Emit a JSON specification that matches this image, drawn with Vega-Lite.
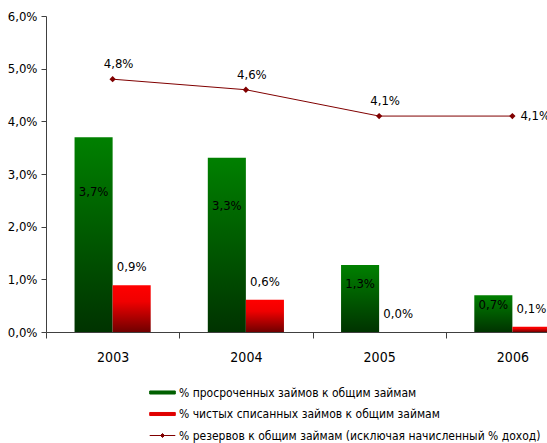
{
  "$schema": "https://vega.github.io/schema/vega-lite/v6.json",
  "autosize": {"type": "none"},
  "width": 501,
  "height": 316,
  "padding": {"left": 46, "top": 16, "right": 0, "bottom": 111},
  "config": {
    "view": {"stroke": null},
    "font": "DejaVu Sans Condensed, Liberation Sans",
    "locale": {"number": {"decimal": ",", "thousands": "\u00a0", "grouping": [3], "currency": ["", ""]}}
  },
  "data": {"values": [
    {"year": "2003", "series": "% просроченных займов к общим займам", "value": 0.037},
    {"year": "2004", "series": "% просроченных займов к общим займам", "value": 0.0331},
    {"year": "2005", "series": "% просроченных займов к общим займам", "value": 0.0127},
    {"year": "2006", "series": "% просроченных займов к общим займам", "value": 0.007},
    {"year": "2003", "series": "% чистых списанных займов к общим займам", "value": 0.0089},
    {"year": "2004", "series": "% чистых списанных займов к общим займам", "value": 0.0061},
    {"year": "2005", "series": "% чистых списанных займов к общим займам", "value": 0.0},
    {"year": "2006", "series": "% чистых списанных займов к общим займам", "value": 0.001},
    {"year": "2003", "series": "% резервов к общим займам (исключая начисленный % доход)", "value": 0.048},
    {"year": "2004", "series": "% резервов к общим займам (исключая начисленный % доход)", "value": 0.046},
    {"year": "2005", "series": "% резервов к общим займам (исключая начисленный % доход)", "value": 0.041},
    {"year": "2006", "series": "% резервов к общим займам (исключая начисленный % доход)", "value": 0.041}
  ]},
  "encoding": {
    "x": {
      "field": "year", "type": "nominal",
      "scale": {"type": "band", "range": [0, 533], "paddingInner": 0, "paddingOuter": 0},
      "axis": {"title": null, "labelAngle": 0, "tickBand": "extent", "tickSize": 6, "labelPadding": 12,
               "labelFontSize": 14, "labelColor": "#000", "domainColor": "#404040", "tickColor": "#404040"}
    },
    "y": {
      "field": "value", "type": "quantitative",
      "scale": {"domain": [0, 0.06], "nice": false},
      "axis": {"title": null, "format": ".1%", "values": [0, 0.01, 0.02, 0.03, 0.04, 0.05, 0.06], "grid": false,
               "tickSize": 5, "labelPadding": 4, "labelFontSize": 13, "labelColor": "#000",
               "domainColor": "#404040", "tickColor": "#404040"}
    }
  },
  "layer": [
    {
      "transform": [{"filter": "datum.series === '% просроченных займов к общим займам'"}],
      "mark": {"type": "bar", "color": {"gradient": "linear", "x1": 0, "y1": 0, "x2": 0, "y2": 1,
        "stops": [{"offset": 0, "color": "#008000"}, {"offset": 1, "color": "#003300"}]}},
      "encoding": {
        "xOffset": {"field": "series", "scale": {"domain": ["% просроченных займов к общим займам", "% чистых списанных займов к общим займам"], "paddingOuter": 0.75, "paddingInner": 0}}
      }
    },
    {
      "transform": [{"filter": "datum.series === '% чистых списанных займов к общим займам'"}],
      "mark": {"type": "bar", "color": {"gradient": "linear", "x1": 0, "y1": 0, "x2": 0, "y2": 1,
        "stops": [{"offset": 0, "color": "#ff0000"}, {"offset": 0.35, "color": "#f00000"}, {"offset": 1, "color": "#700000"}]}},
      "encoding": {
        "xOffset": {"field": "series", "scale": {"domain": ["% просроченных займов к общим займам", "% чистых списанных займов к общим займам"], "paddingOuter": 0.75, "paddingInner": 0}}
      }
    },
    {
      "transform": [
        {"filter": "datum.series === '% просроченных займов к общим займам'"},
        {"calculate": "datum.value * 0.72", "as": "labelPos"}
      ],
      "mark": {"type": "text", "fontSize": 13, "color": "#000", "baseline": "middle"},
      "encoding": {
        "y": {"field": "labelPos", "type": "quantitative"},
        "xOffset": {"field": "series", "scale": {"domain": ["% просроченных займов к общим займам", "% чистых списанных займов к общим займам"], "paddingOuter": 0.75, "paddingInner": 0}},
        "text": {"field": "value", "type": "quantitative", "format": ".1%"}
      }
    },
    {
      "transform": [{"filter": "datum.series === '% чистых списанных займов к общим займам'"}],
      "mark": {"type": "text", "fontSize": 13, "color": "#000", "baseline": "middle", "dy": -18},
      "encoding": {
        "xOffset": {"field": "series", "scale": {"domain": ["% просроченных займов к общим займам", "% чистых списанных займов к общим займам"], "paddingOuter": 0.75, "paddingInner": 0}},
        "text": {"field": "value", "type": "quantitative", "format": ".1%"}
      }
    },
    {
      "transform": [{"filter": "datum.series === '% резервов к общим займам (исключая начисленный % доход)'"}],
      "mark": {"type": "line", "strokeWidth": 1, "point": {"shape": "diamond", "filled": true, "size": 40}},
      "encoding": {
        "color": {
          "field": "series", "type": "nominal",
          "scale": {"domain": ["% просроченных займов к общим займам", "% чистых списанных займов к общим займам", "% резервов к общим займам (исключая начисленный % доход)"],
                    "range": ["#006000", "#e00000", "#800000"]},
          "legend": {
            "orient": "none", "legendX": 108, "legendY": 368, "title": null, "direction": "vertical",
            "labelFontSize": 12, "labelColor": "#000", "labelLimit": 400,
            "symbolSize": 256, "symbolType": "M-1.6,-0.19H1.6V0.19H-1.6Z", "rowPadding": 6.5, "labelOffset": 8,
            "encode": {"symbols": {"update": {
              "fill": {"signal": "datum.value === '% просроченных займов к общим займам' ? {gradient: 'linear', x1: 0, y1: 0, x2: 0, y2: 1, stops: [{offset: 0, color: '#008000'}, {offset: 1, color: '#003300'}]} : datum.value === '% чистых списанных займов к общим займам' ? {gradient: 'linear', x1: 0, y1: 0, x2: 0, y2: 1, stops: [{offset: 0, color: '#ff0000'}, {offset: 1, color: '#700000'}]} : '#800000'"},
              "stroke": {"signal": "datum.value === '% резервов к общим займам (исключая начисленный % доход)' ? '#800000' : null"},
              "strokeWidth": {"value": 1},
              "opacity": {"value": 1},
              "shape": {"signal": "datum.value === '% резервов к общим займам (исключая начисленный % доход)' ? 'M-1.6,0H1.6M-0.25,0L0,-0.25L0.25,0L0,0.25Z' : 'M-1.6,-0.19H1.6V0.19H-1.6Z'"}
            }}}
          }
        }
      }
    },
    {
      "transform": [{"filter": "datum.series === '% резервов к общим займам (исключая начисленный % доход)' && datum.year !== '2006'"}],
      "mark": {"type": "text", "fontSize": 13, "color": "#000", "baseline": "middle", "dx": 6, "dy": -15},
      "encoding": {"text": {"field": "value", "type": "quantitative", "format": ".1%"}}
    },
    {
      "transform": [{"filter": "datum.series === '% резервов к общим займам (исключая начисленный % доход)' && datum.year === '2006'"}],
      "mark": {"type": "text", "fontSize": 13, "color": "#000", "baseline": "middle", "align": "left", "dx": 8, "dy": 0},
      "encoding": {"text": {"field": "value", "type": "quantitative", "format": ".1%"}}
    }
  ]
}
